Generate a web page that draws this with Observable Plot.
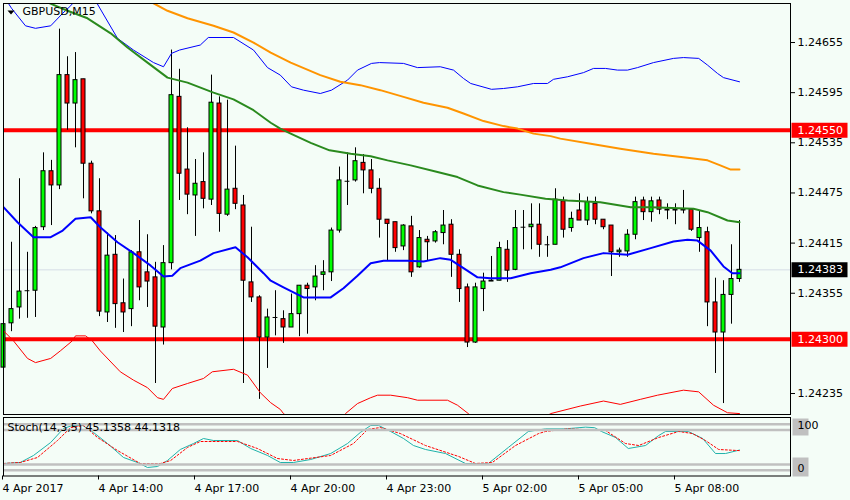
<!DOCTYPE html>
<html><head><meta charset="utf-8">
<script src="https://cdn.jsdelivr.net/npm/d3@7"></script>
<script src="https://cdn.jsdelivr.net/npm/@observablehq/plot@0.6"></script>
<style>
body{margin:0;background:#f4fdf7;}
#chart{position:relative;width:850px;height:500px;background:#f4fdf7;overflow:hidden;}
#chart svg{position:absolute;left:0;}
</style></head><body><div id="chart"></div>
<script>
// ---------- data ----------
const symbolName = ["GBPUSD,M15"];
const stochName = ["Stoch(14,3,5) 45.1358 44.1318"];
const opens = [1.24266,1.24319,1.24338,1.24358,1.24358,1.24434,1.24501,1.24484,1.24616,1.24582,1.24611,1.24510,1.24453,1.24332,1.24401,1.24343,1.24336,1.24404,1.24380,1.24374,1.24314,1.24391,1.24590,1.24503,1.24472,1.24488,1.24467,1.24582,1.24449,1.24480,1.24460,1.24368,1.24350,1.24302,1.24326,1.24324,1.24314,1.24330,1.24364,1.24362,1.24377,1.24380,1.24430,1.24489,1.24490,1.24511,1.24502,1.24480,1.24443,1.24440,1.24411,1.24435,1.24386,1.24419,1.24417,1.24427,1.24437,1.24401,1.24362,1.24296,1.24360,1.24369,1.24370,1.24407,1.24383,1.24434,1.24434,1.24437,1.24413,1.24413,1.24465,1.24433,1.24454,1.24442,1.24462,1.24443,1.24436,1.24404,1.24405,1.24425,1.24466,1.24452,1.24466,1.24455,1.24454,1.24455,1.24455,1.24421,1.24428,1.24344,1.24308,1.24353,1.24372];
const highs = [1.24355,1.24416,1.24492,1.24404,1.24435,1.24523,1.24514,1.24671,1.24638,1.24643,1.24611,1.24513,1.24492,1.24427,1.24424,1.24372,1.24406,1.24442,1.24425,1.24392,1.24412,1.24646,1.24623,1.24553,1.24515,1.24523,1.24616,1.24590,1.24586,1.24531,1.24472,1.24434,1.24352,1.24336,1.24358,1.24334,1.24354,1.24364,1.24367,1.24388,1.24394,1.24433,1.24506,1.24523,1.24529,1.24521,1.24515,1.24492,1.24443,1.24440,1.24437,1.24447,1.24430,1.24423,1.24430,1.24454,1.24443,1.24407,1.24366,1.24367,1.24379,1.24399,1.24416,1.24418,1.24454,1.24454,1.24462,1.24462,1.24423,1.24480,1.24470,1.24452,1.24474,1.24470,1.24470,1.24443,1.24436,1.24409,1.24431,1.24470,1.24470,1.24470,1.24470,1.24462,1.24462,1.24478,1.24456,1.24454,1.24434,1.24373,1.24370,1.24413,1.24442];
const lows = [1.24249,1.24309,1.24324,1.24325,1.24326,1.24430,1.24436,1.24479,1.24550,1.24529,1.24468,1.24450,1.24327,1.24320,1.24313,1.24308,1.24315,1.24346,1.24338,1.24247,1.24293,1.24383,1.24466,1.24449,1.24423,1.24456,1.24460,1.24428,1.24447,1.24455,1.24247,1.24344,1.24228,1.24265,1.24304,1.24295,1.24314,1.24303,1.24306,1.24346,1.24358,1.24369,1.24427,1.24460,1.24488,1.24474,1.24474,1.24421,1.24393,1.24404,1.24406,1.24374,1.24385,1.24394,1.24415,1.24413,1.24374,1.24344,1.24290,1.24295,1.24333,1.24369,1.24370,1.24368,1.24382,1.24407,1.24407,1.24398,1.24398,1.24413,1.24421,1.24428,1.24442,1.24436,1.24437,1.24431,1.24375,1.24398,1.24398,1.24419,1.24442,1.24440,1.24449,1.24443,1.24437,1.24450,1.24429,1.24404,1.24315,1.24259,1.24223,1.24318,1.24368];
const closes = [1.24318,1.24336,1.24357,1.24358,1.24433,1.24501,1.24484,1.24616,1.24582,1.24610,1.24510,1.24453,1.24333,1.24400,1.24342,1.24332,1.24404,1.24362,1.24369,1.24315,1.24391,1.24592,1.24498,1.24473,1.24486,1.24468,1.24583,1.24450,1.24479,1.24462,1.24370,1.24350,1.24302,1.24326,1.24326,1.24314,1.24330,1.24364,1.24360,1.24375,1.24380,1.24430,1.24490,1.24489,1.24513,1.24502,1.24480,1.24443,1.24438,1.24409,1.24436,1.24380,1.24421,1.24416,1.24428,1.24436,1.24401,1.24360,1.24296,1.24362,1.24369,1.24370,1.24409,1.24382,1.24433,1.24434,1.24437,1.24413,1.24413,1.24467,1.24431,1.24444,1.24442,1.24464,1.24443,1.24434,1.24404,1.24406,1.24425,1.24464,1.24452,1.24465,1.24455,1.24454,1.24455,1.24454,1.24431,1.24433,1.24344,1.24308,1.24353,1.24372,1.24383];

// indicator lines: [bar index, price]
const upperBand = [[0,1.24711],[1,1.24696],[2.75,1.24675],[4,1.24672],[5.9,1.24675],[7.4,1.24690],[8.4,1.24699],[10,1.24717],[11.5,1.24705],[14.25,1.24660],[16.25,1.24646],[18.75,1.24631],[20,1.24626],[21,1.24642],[22,1.24646],[24.6,1.24652],[25.6,1.24661],[28.75,1.24661],[31.25,1.24646],[33,1.24625],[34.6,1.24616],[36,1.24602],[37.5,1.24598],[39.6,1.24594],[41,1.24598],[43,1.24610],[44.25,1.24622],[46,1.24630],[47,1.24631],[50,1.24630],[51.75,1.24625],[54.6,1.24626],[56.25,1.24622],[57.5,1.24612],[58.4,1.24606],[61,1.24599],[62.5,1.24600],[64.25,1.24602],[66.25,1.24606],[68,1.24606],[68.75,1.24611],[70.5,1.24614],[72.5,1.24619],[73.75,1.24624],[75.25,1.24624],[76.75,1.24622],[78,1.24622],[79.25,1.24625],[81.25,1.24631],[83.75,1.24636],[85,1.24637],[86.9,1.24636],[88,1.24628],[89.25,1.24618],[90,1.24613],[92,1.24608]];
const lowerBand = [[0,1.24310],[1.25,1.24298],[3,1.24277],[4,1.24272],[5.9,1.24277],[7.1,1.24286],[8.6,1.24298],[9,1.24304],[10.25,1.24304],[11.1,1.24298],[12.1,1.24286],[14.6,1.24261],[16.25,1.24251],[18,1.24242],[19.25,1.24230],[20,1.24228],[21.1,1.24241],[23,1.24247],[25,1.24253],[26.1,1.24261],[28.75,1.24264],[30.5,1.24257],[32.1,1.24236],[33.4,1.24224],[34.6,1.24216],[35,1.24211],[37,1.24197],[40,1.24197],[42,1.24203],[42.75,1.24211],[44.25,1.24223],[45.9,1.24230],[46.75,1.24233],[48.4,1.24233],[50.5,1.24230],[51.75,1.24227],[55.5,1.24227],[56.75,1.24221],[58.1,1.24211],[60,1.24197],[64,1.24193],[67,1.24203],[68.4,1.24211],[72.1,1.24220],[75,1.24226],[77.1,1.24222],[79.6,1.24228],[81.75,1.24233],[85,1.24239],[86.9,1.24237],[88.75,1.24221],[90.5,1.24212],[92,1.24211]];
const fastMA = [[0,1.24458],[1.75,1.24440],[3.75,1.24422],[5.9,1.24422],[7.4,1.24430],[9,1.24444],[10.9,1.24446],[12.1,1.24434],[14.25,1.24416],[16.25,1.24403],[18.4,1.24388],[20,1.24375],[21.1,1.24376],[22.1,1.24385],[24.6,1.24394],[26.25,1.24403],[29,1.24410],[30.5,1.24398],[32.5,1.24379],[33.4,1.24370],[35,1.24362],[37.5,1.24350],[40.9,1.24350],[42.5,1.24361],[44.25,1.24376],[45.9,1.24391],[47.5,1.24394],[50.5,1.24394],[52.5,1.24393],[54.6,1.24397],[55.9,1.24395],[57.5,1.24385],[59.25,1.24374],[60.9,1.24373],[63.4,1.24373],[65.9,1.24379],[68.4,1.24383],[69.6,1.24386],[72.5,1.24397],[75,1.24403],[78,1.24401],[80.9,1.24409],[83.75,1.24417],[85.5,1.24419],[86.75,1.24418],[88.4,1.24406],[90,1.24387],[91.1,1.24379],[92,1.24379]];
const midMA = [[3,1.24717],[5.5,1.24703],[8,1.24693],[10.5,1.24684],[13.4,1.24666],[15.5,1.24649],[18,1.24631],[20.5,1.24613],[23,1.24607],[26.25,1.24595],[28.75,1.24587],[31.25,1.24574],[33.4,1.24559],[34.6,1.24552],[35.9,1.24546],[38.4,1.24535],[40.75,1.24526],[43.4,1.24522],[45.9,1.24519],[48,1.24514],[50.9,1.24508],[54.25,1.24500],[56.75,1.24494],[59.25,1.24484],[62.5,1.24476],[64.6,1.24473],[67.75,1.24468],[70.5,1.24466],[74.6,1.24464],[78.4,1.24458],[80.9,1.24458],[86.25,1.24456],[88,1.24452],[90.5,1.24442],[92,1.24440]];
const slowMA = [[16,1.24711],[18.75,1.24702],[20.5,1.24693],[23,1.24684],[26.25,1.24675],[28.75,1.24667],[31.25,1.24655],[33.4,1.24643],[35.9,1.24631],[39.6,1.24616],[42.1,1.24608],[44.6,1.24604],[47.1,1.24598],[50,1.24590],[52.5,1.24583],[55.5,1.24577],[57.5,1.24570],[60,1.24561],[62.5,1.24555],[64.25,1.24552],[66.25,1.24546],[68.4,1.24543],[69.6,1.24540],[73.4,1.24534],[77.1,1.24528],[81.25,1.24522],[85.5,1.24517],[88,1.24514],[89.6,1.24508],[90.9,1.24503],[92,1.24503]];

const redLevels = [1.24550, 1.24300];
// 1.24295 sits under the 1.24300 level label in the reference, so it is not listed
const priceTicks = [1.24655,1.24595,1.24535,1.24475,1.24415,1.24355,1.24235];

const stochMain = [[0,21.7],[2.1,23.5],[3.75,35.7],[5.9,58.3],[7.5,82.6],[8.6,87.8],[9.9,87.8],[11.25,75.7],[13,56.5],[15,32.2],[16.75,23.5],[18,14.8],[19.25,16.5],[20.5,27.0],[22.1,46.1],[23.75,56.5],[25,65.2],[26.25,61.7],[29.25,61.7],[30.9,47.8],[33,35.7],[34.6,23.5],[36.25,23.5],[38.4,28.7],[40.9,39.1],[43,56.5],[44.6,75.7],[45.9,87.8],[46.9,87.8],[48.4,77.4],[50,65.2],[51.25,53.0],[52.75,46.1],[55.25,39.1],[57.75,21.7],[60.6,21.7],[63.1,49.6],[65.6,77.4],[67.75,82],[70.25,82],[72.75,85],[73.9,84],[74.75,77.4],[76.5,67.0],[78.1,47.8],[80.25,53.0],[81.9,70.4],[82.75,77.4],[85.6,77.4],[87.4,65.2],[89,39.1],[90.25,39.1],[92,45.14]];
const stochSignal = [[0,21.7],[2.1,23.5],[4.25,32.2],[6.75,61.7],[8.4,84.3],[10,87.8],[11.75,67.0],[14.25,44.3],[17.1,21.7],[19.6,21.7],[20.9,27.0],[23,49.6],[24.6,60.0],[29.25,60.0],[31.75,47.8],[34.25,30.4],[36.25,27.0],[40.9,35.7],[43.75,56.5],[45.5,80.9],[47.1,84.3],[49.6,73.9],[52.75,53.0],[56.9,33.9],[59,21.7],[61.1,23.5],[64,53.0],[66.9,73.9],[67.75,77.4],[70.5,82],[75.25,79.1],[77.75,56.5],[79.4,53.0],[81.9,67.0],[84.4,77.4],[86.1,73.9],[87.75,61.7],[89.4,46.1],[92,44.13]];
const stochLevels = [10, 20, 80, 90];
const timeTickIdx = [0, 12, 24, 36, 48, 60, 72, 84];
const timeLabels = ["4 Apr 2017","4 Apr 14:00","4 Apr 17:00","4 Apr 20:00","4 Apr 23:00","5 Apr 02:00","5 Apr 05:00","5 Apr 08:00"];

// ---------- build ----------
const candles = opens.map((o, i) => ({i, o, h: highs[i], l: lows[i], c: closes[i]}));
const bulls = candles.filter(d => d.c > d.o);
const bears = candles.filter(d => d.c < d.o);
const dojis = candles.filter(d => d.c === d.o);
const lastClose = [closes[closes.length - 1]];

const boxSym = (w, h) => ({draw(ctx) { ctx.rect(-w / 2, -h / 2, w, h); }});
const downTri = {draw(ctx) { ctx.moveTo(-3.5, -2.5); ctx.lineTo(3.5, -2.5); ctx.lineTo(0, 1.5); ctx.closePath(); }};
const font = {fontFamily: "'DejaVu Sans', sans-serif", fontSize: "11px", background: "transparent", color: "black", overflow: "visible"};
const X = {domain: [0, 98.375], axis: null};
const lx = d => d[0], ly = d => d[1];

const main = Plot.plot({
  width: 850, height: 416,
  marginTop: 3, marginBottom: 2, marginLeft: 3, marginRight: 60,
  x: X,
  y: {domain: [1.242099, 1.247017]},
  style: font,
  marks: [
    Plot.ruleY(lastClose, {stroke: "#d5dde6", strokeWidth: 1}),
    Plot.ruleY(redLevels, {stroke: "#ff0000", strokeWidth: 4}),
    Plot.ruleX(candles, {x: "i", y1: "l", y2: "h", stroke: "black", strokeWidth: 1}),
    Plot.rect(bulls, {x1: d => d.i - 0.25, x2: d => d.i + 0.25, y1: "o", y2: "c", fill: "#00ff00", stroke: "black", strokeWidth: 1}),
    Plot.rect(bears, {x1: d => d.i - 0.25, x2: d => d.i + 0.25, y1: "o", y2: "c", fill: "#ff0000", stroke: "black", strokeWidth: 1}),
    Plot.ruleY(dojis, {y: "o", x1: d => d.i - 0.3, x2: d => d.i + 0.3, stroke: "black", strokeWidth: 1}),
    Plot.line(upperBand, {x: lx, y: ly, stroke: "#0000ff", strokeWidth: 1, clip: true}),
    Plot.line(lowerBand, {x: lx, y: ly, stroke: "#ff0000", strokeWidth: 1, clip: true}),
    Plot.line(slowMA, {x: lx, y: ly, stroke: "#ff9400", strokeWidth: 2, clip: true}),
    Plot.line(midMA, {x: lx, y: ly, stroke: "#2a8a1e", strokeWidth: 2, clip: true}),
    Plot.line(fastMA, {x: lx, y: ly, stroke: "#0000ff", strokeWidth: 2, clip: true}),
    Plot.frame({stroke: "black"}),
    Plot.axisY({anchor: "right", ticks: priceTicks, tickFormat: d => d.toFixed(5), tickSize: 4, tickPadding: 3, fontSize: 11, stroke: "black"}),
    Plot.dot(redLevels, {y: d => d, frameAnchor: "right", dx: 29, symbol: boxSym(56, 15), fill: "#ff0000", stroke: "none"}),
    Plot.text(redLevels, {y: d => d, text: d => d.toFixed(5), frameAnchor: "right", dx: 7, textAnchor: "start", fill: "white", fontSize: 11}),
    Plot.dot(lastClose, {y: d => d, frameAnchor: "right", dx: 29, symbol: boxSym(56, 15), fill: "black", stroke: "none"}),
    Plot.text(lastClose, {y: d => d, text: d => d.toFixed(5), frameAnchor: "right", dx: 7, textAnchor: "start", fill: "white", fontSize: 11}),
    Plot.dot([0], {frameAnchor: "top-left", dx: 7.5, dy: 9.5, symbol: downTri, fill: "black", stroke: "none"}),
    Plot.text(symbolName, {text: d => d, frameAnchor: "top-left", dx: 19, dy: 4, lineAnchor: "top", textAnchor: "start", fill: "black", fontSize: 11})
  ]
});
main.style.top = "0px";

const stoch = Plot.plot({
  width: 850, height: 84,
  marginTop: 2, marginBottom: 24.5, marginLeft: 3, marginRight: 60,
  x: X,
  y: {domain: [0, 100], axis: null},
  style: font,
  marks: [
    Plot.line(stochMain, {x: lx, y: ly, stroke: "#20b2aa", strokeWidth: 1}),
    Plot.line(stochSignal, {x: lx, y: ly, stroke: "#ff0000", strokeWidth: 1, strokeDasharray: "2,2"}),
    Plot.ruleY(stochLevels, {stroke: "#c0c0c0", strokeWidth: 2.5}),
    Plot.frame({stroke: "black", insetTop: -1}),
    Plot.text(stochName, {text: d => d, frameAnchor: "top-left", dx: 4, dy: 9, lineAnchor: "middle", textAnchor: "start", fill: "black", fontSize: 11}),
    Plot.dot([100], {y: d => d, frameAnchor: "right", dx: 10, dy: 8.5, symbol: boxSym(16, 17), fill: "#c0c0c0", stroke: "none"}),
    Plot.dot([0], {y: d => d, frameAnchor: "right", dx: 10, dy: -9, symbol: boxSym(16, 19), fill: "#c0c0c0", stroke: "none"}),
    Plot.text(["100"], {text: d => d, y: [100], frameAnchor: "right", dx: 7, dy: 7, textAnchor: "start", fill: "black", fontSize: 11}),
    Plot.text(["0"], {text: d => d, y: [0], frameAnchor: "right", dx: 7, dy: -7.5, textAnchor: "start", fill: "black", fontSize: 11}),
    Plot.axisX({anchor: "bottom", ticks: timeTickIdx, tickFormat: d => timeLabels[timeTickIdx.indexOf(d)], tickSize: 4, tickPadding: 4, textAnchor: "start", dx: -1, fontSize: 11, stroke: "black"})
  ]
});
stoch.style.top = "416px";

const el = document.getElementById("chart");
el.append(main, stoch);
</script>
</body></html>
